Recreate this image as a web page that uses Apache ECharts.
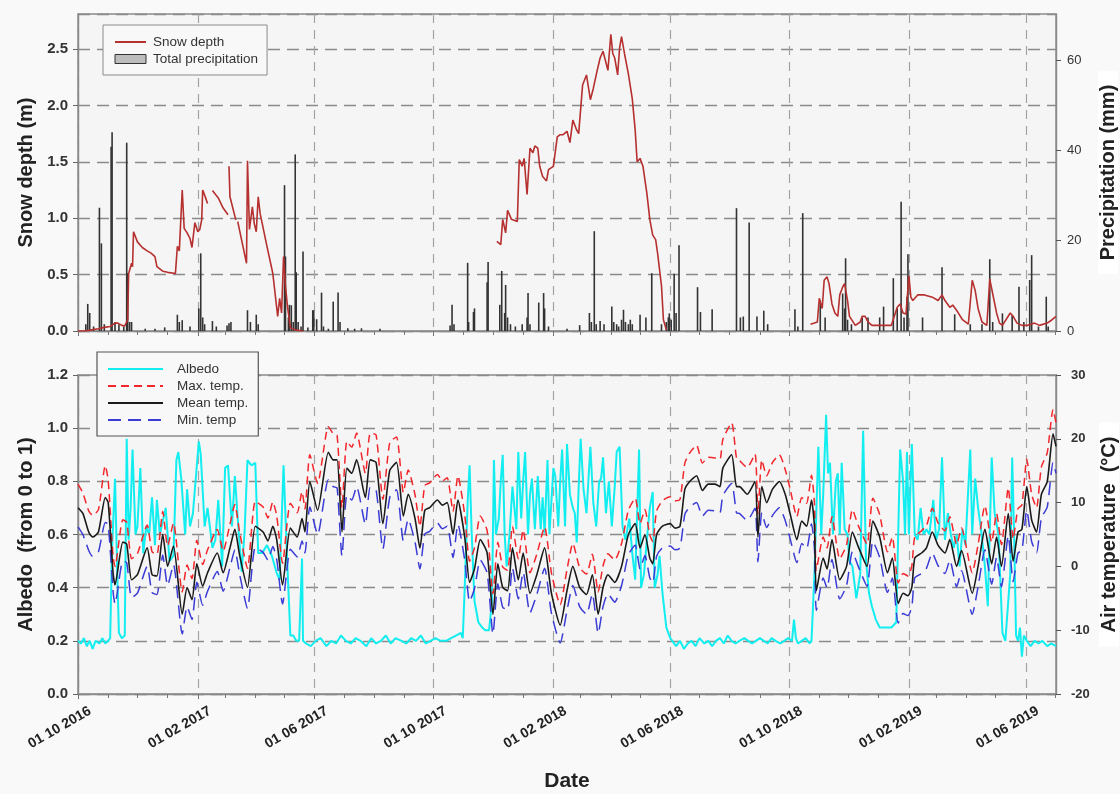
<!DOCTYPE html>
<html><head><meta charset="utf-8">
<script src="https://cdn.jsdelivr.net/npm/echarts@6/dist/echarts.min.js"></script>
<style>html,body{margin:0;padding:0;background:#f9f9f9}#c{width:1120px;height:794px}</style>
</head><body><div id="c"></div>
<script>
// x positions are "days since 01 10 2016"
const tickLabels = ['01 10 2016','01 02 2017','01 06 2017','01 10 2017','01 02 2018','01 06 2018','01 10 2018','01 02 2019','01 06 2019'];
const axisEndDay = 1004;

// ---- Precipitation (mm) ----
const precipDay = [8,10,12,16,22,24,27,34,35,38,42,47,50,51,53,55,69,79,89,102,104,107,115,124,126,128,130,138,142,153,155,157,174,177,183,185,212,213,216,217,219,221,223,224,226,229,231,236,241,242,245,250,252,257,262,267,269,277,284,291,310,382,384,386,400,401,406,407,420,421,433,435,438,439,441,444,449,456,461,462,464,473,478,479,483,502,515,525,527,530,532,536,540,548,550,553,555,558,560,562,565,567,569,577,583,589,599,604,606,607,609,612,614,617,636,639,651,676,680,683,689,697,704,708,736,739,744,762,767,785,787,788,790,794,805,811,823,827,837,841,845,848,851,852,867,887,900,916,928,936,939,949,959,966,971,977,979,986,994,996];
const precipMm = [1.5,6.0,4.0,1.0,27.3,19.4,1.5,40.8,44.0,2.0,1.5,1.0,41.7,12.8,2.0,2.0,0.5,0.5,0.8,3.6,2.0,2.4,1.0,5.0,17.2,3.0,1.5,2.2,1.0,1.2,1.7,2.0,4.6,2.0,3.6,1.5,32.3,16.5,3.0,5.8,5.7,2.0,39.1,13.0,2.0,1.0,17.6,0.8,4.6,4.6,2.6,8.5,1.0,0.5,6.5,8.5,2.0,0.6,0.5,0.6,0.5,1.2,5.8,1.5,15.1,2.0,4.2,5.0,10.8,15.3,5.8,13.3,4.0,10.2,3.0,1.5,1.0,1.5,3.0,8.4,1.5,6.3,8.4,5.0,1.0,0.5,1.3,4.0,2.0,22.1,1.5,2.2,1.5,5.4,2.0,1.5,1.0,2.5,4.7,2.0,1.5,2.5,1.5,3.6,3.0,12.8,1.5,2.0,3.0,3.9,2.5,12.7,4.0,19.0,9.7,4.2,4.8,27.2,3.0,3.2,24.0,3.2,4.5,1.5,4.8,1.0,26.1,6.8,3.0,8.3,5.0,16.1,2.5,1.5,3.0,3.0,3.0,5.4,11.7,5.0,28.6,3.0,7.6,17.0,3.0,14.1,3.7,1.5,1.5,15.9,2.0,3.9,3.5,9.8,2.0,11.3,16.8,1.0,7.6,1.0];

// ---- Snow depth (m), null = no data ----
const snowDay = [0,7,14,21,26,33,38,41,45,48,51,52,55,56,57,61,66,71,75,79,81,84,87,92,100,102,104,107,109,112,115,117,120,123,125,127,128,131,133,135,138,144,149,154,154.5,155,156,162,163,164,173,174,176,179,181,183,185,187,194,200,205,207,209,211,213,215,218,223,231,400,
 430,434,436,439,441,445,451,453,456,458,461,464,467,469,472,474,477,481,483,488,492,495,498,502,505,508,512,514,518,522,526,529,533,536,539,541,544,547,549,551,554,556,558,561,565,569,572,574,577,580,584,587,590,593,595,599,601,604,700,
 752,756,759,761,764,766,769,771,774,777,780,782,785,787,790,792,798,803,805,808,811,815,825,835,841,844,847,850,853,855,857,862,869,877,883,887,890,895,898,903,908,914,916,918,921,924,928,933,936,939,943,946,949,957,960,964,969,975,982,987,995,1000,1004];
const snowDepth = [0,0,0.01,0.02,0.03,0.04,0.07,0.07,0.05,0.045,0.10,0.51,0.60,0.57,0.88,0.79,0.74,0.71,0.69,0.66,0.57,0.55,0.53,0.52,0.51,0.75,0.71,1.25,0.91,0.87,0.82,0.74,0.96,0.88,0.90,0.985,1.25,1.18,1.13,null,1.245,1.18,1.09,1.03,null,1.46,1.19,0.985,null,0.97,0.60,1.51,0.90,1.10,0.95,0.88,1.19,1.04,0.75,0.51,0.13,0.29,0.16,0.66,0.40,0.22,0.03,0.01,0.0,null,
 0.795,0.765,0.99,0.87,1.07,0.99,0.97,1.52,1.46,1.53,1.21,1.62,1.58,1.64,1.62,1.46,1.37,1.33,1.43,1.46,1.72,1.74,1.74,1.77,1.67,1.87,1.78,1.75,2.18,2.27,2.05,2.15,2.31,2.42,2.48,2.49,2.31,2.63,2.46,2.42,2.27,2.51,2.61,2.46,2.28,2.06,1.78,1.50,1.53,1.46,1.22,0.99,0.85,0.81,0.69,0.40,0.10,0.01,null,
 0.06,0.07,0.08,0.29,0.20,0.45,0.48,0.42,0.24,0.16,0.13,0.32,0.39,0.42,0.27,0.13,0.05,0.08,0.13,0.13,0.08,0.05,0.05,0.05,0.21,0.24,0.16,0.15,0.49,0.30,0.27,0.32,0.32,0.30,0.27,0.32,0.27,0.21,0.23,0.17,0.10,0.06,0.06,0.45,0.36,0.20,0.08,0.05,0.46,0.33,0.16,0.07,0.05,0.16,0.13,0.07,0.05,0.05,0.07,0.05,0.07,0.10,0.13];

// ---- Albedo (0-1) ----
const albedoDay = [0,3,6,9,12,15,18,22,25,28,31,33,35,38,40,42,45,48,50,52,54,56,59,61,64,67,70,73,76,79,81,84,87,90,94,98,101,103,106,110,112,115,118,120,124,126,130,133,138,141,144,148,151,154,158,161,164,168,171,174,178,182,185,189,194,199,204,207,211,215,218,221,224,227,230,231,
 234,239,244,249,255,260,265,270,275,280,285,290,296,301,306,311,316,321,326,332,337,342,347,352,357,362,367,372,378,383,388,393,395,
 397,400,402,404,407,411,415,418,422,425,427,429,432,434,436,438,440,443,446,450,452,455,457,459,462,464,466,469,472,475,477,479,482,484,488,490,493,495,497,500,502,505,508,510,512,514,516,519,522,526,529,532,535,537,539,542,545,548,551,553,556,559,562,566,569,572,574,576,578,581,584,587,590,592,595,597,600,604,606,608,
 610,614,618,622,626,630,634,638,643,647,651,655,659,663,667,671,675,679,684,688,692,696,700,704,708,712,716,721,725,729,733,735,737,739,743,747,751,
 753,756,760,763,765,768,770,772,775,778,780,782,784,787,790,792,795,799,803,806,809,812,815,819,823,827,831,835,840,842,844,847,849,851,853,856,859,862,865,868,871,874,878,881,884,887,890,893,896,899,902,905,908,911,916,918,921,924,927,931,934,938,941,945,949,952,957,959,961,963,965,967,969,971,974,978,982,986,990,995,999,1004];
const albedo = [0.20,0.19,0.21,0.18,0.20,0.17,0.20,0.19,0.21,0.19,0.20,0.21,0.55,0.81,0.50,0.23,0.21,0.22,0.96,0.58,0.70,0.92,0.60,0.63,0.85,0.53,0.63,0.60,0.74,0.56,0.73,0.60,0.65,0.70,0.50,0.52,0.88,0.91,0.81,0.60,0.77,0.63,0.68,0.68,0.95,0.90,0.63,0.70,0.55,0.58,0.73,0.48,0.85,0.86,0.63,0.82,0.66,0.46,0.61,0.88,0.86,0.87,0.53,0.53,0.56,0.52,0.455,0.43,0.86,0.48,0.22,0.22,0.20,0.20,0.51,0.20,
 0.19,0.18,0.20,0.21,0.18,0.20,0.19,0.22,0.20,0.19,0.21,0.20,0.18,0.21,0.19,0.20,0.22,0.19,0.21,0.20,0.19,0.21,0.20,0.22,0.19,0.20,0.21,0.20,0.20,0.21,0.22,0.23,0.21,
 0.40,0.72,0.86,0.62,0.35,0.27,0.25,0.24,0.24,0.35,0.88,0.60,0.66,0.80,0.90,0.60,0.48,0.60,0.78,0.62,0.91,0.66,0.80,0.91,0.60,0.75,0.81,0.62,0.82,0.62,0.74,0.605,0.88,0.60,0.85,0.82,0.63,0.80,0.92,0.63,0.94,0.75,0.70,0.68,0.57,0.78,0.96,0.77,0.68,0.93,0.72,0.63,0.80,0.81,0.89,0.68,0.80,0.63,0.78,0.91,0.93,0.63,0.58,0.66,0.53,0.43,0.43,0.92,0.40,0.45,0.58,0.70,0.76,0.40,0.45,0.52,0.38,0.25,0.23,0.21,
 0.21,0.18,0.20,0.17,0.19,0.20,0.18,0.21,0.19,0.20,0.18,0.20,0.21,0.19,0.22,0.20,0.19,0.20,0.21,0.20,0.19,0.20,0.21,0.20,0.19,0.21,0.20,0.19,0.20,0.21,0.20,0.28,0.21,0.19,0.20,0.21,0.19,
 0.20,0.45,0.93,0.60,0.75,1.05,0.83,0.87,0.60,0.80,0.83,0.60,0.87,0.62,0.60,0.50,0.48,0.36,0.45,0.99,0.50,0.38,0.33,0.28,0.25,0.25,0.25,0.25,0.27,0.60,0.92,0.80,0.60,0.91,0.60,0.94,0.60,0.58,0.70,0.60,0.62,0.60,0.73,0.58,0.62,0.89,0.58,0.68,0.60,0.55,0.60,0.48,0.62,0.56,0.92,0.60,0.81,0.70,0.62,0.48,0.33,0.89,0.68,0.60,0.23,0.20,0.45,0.89,0.60,0.22,0.20,0.25,0.14,0.22,0.20,0.18,0.20,0.19,0.20,0.18,0.19,0.18];

// ---- Air temperature (°C) ----
const tempDay = [0,5,11,15,21,28,31,36,38,46,50,55,61,71,76,81,87,92,98,107,112,117,122,128,133,143,149,156,161,166,174,182,190,195,200,204,210,218,225,230,233,238,246,257,262,266,271,276,281,286,295,300,306,313,320,327,334,339,346,351,356,361,369,374,379,385,390,397,402,407,413,420,426,431,436,441,446,452,457,464,471,479,486,495,502,508,515,522,528,534,539,544,551,558,565,572,577,582,587,590,594,600,608,613,618,623,628,635,641,647,654,659,662,671,676,679,687,695,698,702,707,713,720,726,731,738,743,748,753,756,758,765,769,774,782,789,795,801,810,816,823,831,836,842,847,852,856,859,866,871,877,883,890,895,902,907,918,924,931,938,943,948,955,960,965,969,974,979,984,989,995,1001,1004];
const tempMax = [12.9,11.5,8.7,8.0,8.9,15.8,13.5,1.5,0.0,7.3,6.9,1.2,2.0,6.5,2.3,1.9,8.6,3.2,6.8,-4.0,0.2,-1.9,4.1,0.3,2.6,5.8,2.4,6.6,9.7,5.3,-0.3,10.2,9.3,7.6,10.1,7.9,0.5,9.9,8.4,11.7,9.0,17.5,13.0,21.9,20.8,20.5,9.2,19.6,18.7,20.9,14.6,20.9,20.6,10.5,19.4,20.3,11.6,15.1,11.2,6.3,12.7,13.1,14.4,13.4,13.9,8.6,14.2,8.1,0.8,2.9,7.9,5.6,-4.3,3.8,-0.1,-0.6,6.3,1.2,5.7,-1.0,1.9,6.2,-1.0,-6.0,-0.5,3.6,-0.2,-1.2,1.9,-4.0,0.1,2.0,1.0,3.6,8.8,10.7,6.7,8.9,4.9,3.9,8.7,10.3,10.9,10.3,10.5,16.2,17.8,19.0,16.2,17.1,17.0,16.8,19.9,22.5,17.0,16.6,15.5,17.6,8.2,16.7,14.2,16.3,17.5,15.2,12.2,7.8,10.8,9.9,14.3,9.9,-0.6,4.6,2.9,7.8,1.2,3.4,8.9,6.4,3.5,10.7,8.1,2.3,4.6,-2.6,-1.1,-1.5,0.1,4.6,5.6,6.4,9.1,6.8,5.6,7.8,3.4,6.0,-1.0,3.4,9.5,3.8,8.3,3.4,12.3,4.3,9.1,9.6,16.8,11.3,9.2,15.6,17.8,24.6,22.5];
const tempMean = [9.2,8.3,5.4,4.6,5.4,10.8,10.0,-1.0,-2.9,3.8,3.5,-2.1,-1.3,2.9,-1.3,-1.5,5.0,0.0,3.2,-7.5,-3.3,-5.2,0.4,-3.1,-1.0,2.1,-1.0,2.9,5.8,1.7,-3.3,6.3,5.4,4.0,6.3,4.2,-2.9,6.0,4.6,7.5,5.4,13.3,8.8,17.9,16.7,16.7,5.4,15.4,14.6,16.7,10.8,16.7,16.3,6.7,15.0,16.3,7.9,11.3,7.5,2.9,8.8,9.2,10.4,9.6,10.0,5.0,10.4,4.6,-2.5,-0.4,4.2,2.1,-7.5,0.4,-3.3,-3.8,2.9,-2.1,2.1,-4.2,-1.3,2.9,-4.2,-9.2,-3.8,0.0,-3.3,-4.4,-1.3,-7.5,-3.3,-1.3,-2.5,0.0,5.0,6.7,2.9,5.0,1.3,0.4,5.0,6.3,6.7,6.0,6.3,12.1,13.3,14.2,11.9,12.9,12.9,12.5,15.4,17.5,12.5,12.5,11.3,13.3,4.6,12.5,10.0,12.1,13.3,11.3,8.3,4.2,7.1,6.3,10.4,6.3,-3.8,1.3,-0.4,4.2,-2.1,0.0,5.4,3.1,0.0,7.1,4.6,-1.0,1.3,-5.8,-4.2,-4.6,-3.3,1.3,2.1,2.9,5.4,3.3,2.1,4.2,0.0,2.5,-4.2,0.0,5.8,0.4,4.6,0.0,8.3,0.8,5.4,5.8,12.5,7.3,5.4,11.3,13.3,20.8,18.8];
const tempMin = [6.2,5.0,2.5,1.6,2.3,6.9,6.6,-3.9,-5.9,0.8,0.6,-4.9,-4.2,0.0,-4.1,-4.4,1.8,-3.0,0.3,-10.6,-6.3,-8.3,-2.5,-6.1,-3.9,-0.8,-3.9,-0.2,2.6,-1.3,-6.6,3.0,2.2,1.0,3.1,1.1,-5.9,2.7,1.5,4.0,2.1,9.3,5.0,13.6,12.5,12.3,1.6,11.2,10.4,12.5,6.6,12.4,12.0,2.7,10.8,12.0,4.0,7.4,3.8,-0.4,5.1,5.5,6.8,5.9,6.3,1.4,6.6,1.0,-5.5,-3.5,1.0,-1.0,-10.6,-2.7,-6.4,-6.8,-0.2,-5.1,-0.9,-7.3,-4.4,-0.3,-7.3,-12.0,-6.9,-3.0,-6.3,-7.5,-4.3,-10.5,-6.3,-4.3,-5.6,-3.0,1.8,3.3,-0.4,1.7,-1.8,-2.6,1.6,2.9,3.2,2.6,2.9,8.2,9.3,10.0,7.9,8.8,8.7,8.4,11.1,13.0,8.4,8.3,7.2,9.1,0.7,8.4,6.1,8.0,9.2,7.2,4.4,0.6,3.6,2.8,6.7,2.8,-6.9,-1.8,-3.4,1.1,-5.1,-3.0,2.3,0.0,-3.1,3.9,1.4,-4.1,-1.8,-8.9,-7.4,-7.7,-6.3,-1.8,-1.1,-0.3,2.1,0.1,-1.1,1.0,-3.2,-0.7,-7.5,-3.2,2.6,-2.8,1.4,-3.2,4.8,-2.4,2.1,2.5,8.8,3.9,2.1,7.6,9.3,16.3,14.6];

// ---------- helpers ----------
const T0 = Date.UTC(2016, 9, 1);
const DAY = 86400000;
const labelToDay = s => { const p = s.split(' ').map(Number); return Math.round((Date.UTC(p[2], p[1] - 1, p[0]) - T0) / DAY); };
const pad = n => (n < 10 ? '0' : '') + n;
const fmtDay = v => { const d = new Date(T0 + Math.round(v) * DAY); return pad(d.getUTCDate()) + ' ' + pad(d.getUTCMonth() + 1) + ' ' + d.getUTCFullYear(); };
const pairs = (days, vals) => days.map((d, i) => [d, vals[i] == null ? '-' : vals[i]]);

const majorTicks = tickLabels.map(labelToDay);
const monthTicks = [];
for (let k = 0; ; k++) {
  const dd = Math.round((Date.UTC(2016, 9 + k, 1) - T0) / DAY);
  if (dd > axisEndDay) break;
  monthTicks.push(dd);
}

const FONT = '"Liberation Sans", Arial, sans-serif';
const hDash = { show: true, lineStyle: { color: '#8a8a8a', width: 1.4, type: [12, 7] } };
const vDash = { show: true, lineStyle: { color: '#a3a3a3', width: 1.2, type: [9, 7] } };
const AXIS_LINE = { show: true, onZero: false, lineStyle: { color: '#8a8a8a', width: 1.4 } };
const gridBase = { show: true, backgroundColor: '#f5f5f5', borderColor: '#8a8a8a', borderWidth: 1.4, left: 78, right: 64, outerBoundsMode: 'none', containLabel: false };
const NAME_STYLE = { fontSize: 20, fontWeight: 'bold', color: '#222', fontFamily: FONT };

function mainX(gi, withLabels) {
  return {
    type: 'value', gridIndex: gi, min: 0, max: axisEndDay, position: 'bottom',
    axisLine: AXIS_LINE,
    axisTick: { show: true, customValues: majorTicks, length: 5, lineStyle: { color: '#666' } },
    axisLabel: withLabels ? {
      show: true, customValues: majorTicks, formatter: fmtDay, rotate: 30, margin: 23,
      fontSize: 14, fontWeight: 'bold', color: '#222', fontFamily: FONT, padding: [0, -14, 0, 0]
    } : { show: false },
    splitLine: vDash,
    name: withLabels ? 'Date' : '', nameLocation: 'middle', nameGap: 77,
    nameTextStyle: { fontSize: 21, fontWeight: 'bold', color: '#222', fontFamily: FONT }
  };
}
function minorX(gi) {
  return {
    type: 'value', gridIndex: gi, min: 0, max: axisEndDay, position: 'bottom',
    axisLine: { show: false, onZero: false }, axisLabel: { show: false }, splitLine: { show: false },
    axisTick: { show: true, customValues: monthTicks, length: 4, lineStyle: { color: '#777' } }
  };
}
const leftLabel = { fontSize: 15, fontWeight: 'bold', color: '#333', fontFamily: FONT, margin: 10, formatter: v => v.toFixed(1), showMaxLabel: false };
const hideSym = { color: 'rgba(0,0,0,0)', borderWidth: 0, opacity: 0 };

const option = {
  animation: false,
  backgroundColor: '#f9f9f9',
  textStyle: { fontFamily: FONT },
  grid: [
    Object.assign({}, gridBase, { top: 14, height: 317 }),
    Object.assign({}, gridBase, { top: 375, height: 319 })
  ],
  xAxis: [mainX(0, false), minorX(0), mainX(1, true), minorX(1)],
  yAxis: [
    { type: 'value', gridIndex: 0, min: 0, max: 2.81, interval: 0.5, position: 'left',
      axisLine: AXIS_LINE,
      axisTick: { show: true, length: 5, lineStyle: { color: '#666' } },
      axisLabel: leftLabel, splitLine: hDash,
      name: 'Snow depth (m)', nameLocation: 'middle', nameGap: 38, nameRotate: 90, nameTextStyle: NAME_STYLE },
    { type: 'value', gridIndex: 0, min: 0, max: 70.2, interval: 20, position: 'right',
      axisLine: AXIS_LINE,
      axisTick: { show: true, length: 5, lineStyle: { color: '#555' } },
      axisLabel: { fontSize: 13, color: '#333', fontFamily: FONT, margin: 11, showMaxLabel: false },
      splitLine: { show: false },
      name: 'Precipitation (mm)', nameLocation: 'middle', nameGap: 42, nameRotate: 90, nameMoveOverlap: false,
      nameTextStyle: Object.assign({ backgroundColor: '#ffffff', padding: [0, 14, 0, 14] }, NAME_STYLE) },
    { type: 'value', gridIndex: 1, min: 0, max: 1.2, interval: 0.2, position: 'left',
      axisLine: AXIS_LINE,
      axisTick: { show: true, length: 5, lineStyle: { color: '#666' } },
      axisLabel: Object.assign({}, leftLabel, { showMaxLabel: true }), splitLine: hDash,
      name: 'Albedo  (from 0 to 1)', nameLocation: 'middle', nameGap: 38, nameRotate: 90, nameTextStyle: NAME_STYLE },
    { type: 'value', gridIndex: 1, min: -20, max: 30, interval: 10, position: 'right',
      axisLine: AXIS_LINE,
      axisTick: { show: true, length: 5, lineStyle: { color: '#555' } },
      axisLabel: { fontSize: 13, fontWeight: 'bold', color: '#333', fontFamily: FONT, margin: 15 },
      splitLine: { show: false },
      name: 'Air temperature  (°C)', nameLocation: 'middle', nameGap: 43, nameRotate: 90, nameMoveOverlap: false,
      nameTextStyle: Object.assign({ backgroundColor: '#ffffff', padding: [0, 14, 0, 14] }, NAME_STYLE) }
  ],
  legend: [
    { data: [{ name: 'Snow depth', itemStyle: hideSym },
             { name: 'Total precipitation', icon: 'rect', itemStyle: { color: '#bdbdbd', borderColor: '#333', borderWidth: 1, opacity: 1 } }],
      orient: 'vertical', left: 103, top: 25, padding: [10, 9, 9, 11], itemGap: 3, itemWidth: 31, itemHeight: 9,
      borderColor: '#8a8a8a', borderWidth: 1, backgroundColor: '#f8f8f8',
      textStyle: { fontSize: 13.5, color: '#333', fontFamily: FONT, padding: [0, 0, 0, 2] } },
    { data: [{ name: 'Albedo', itemStyle: hideSym }, { name: 'Max. temp.', itemStyle: hideSym },
             { name: 'Mean temp.', itemStyle: hideSym }, { name: 'Min. temp', itemStyle: hideSym }],
      orient: 'vertical', left: 97, top: 352, padding: [10, 10, 9, 10], itemGap: 3, itemWidth: 55, itemHeight: 14,
      borderColor: '#555', borderWidth: 1.2, backgroundColor: '#f8f8f8',
      textStyle: { fontSize: 13.5, color: '#333', fontFamily: FONT, padding: [0, 0, 0, 9] } }
  ],
  series: [
    { name: 'Total precipitation', type: 'bar', xAxisIndex: 0, yAxisIndex: 1, barWidth: 1.6, barGap: '-100%',
      itemStyle: { color: '#333333' }, data: pairs(precipDay, precipMm), z: 2 },
    { name: 'Snow depth', type: 'line', xAxisIndex: 0, yAxisIndex: 0, symbol: 'none', connectNulls: false,
      lineStyle: { color: '#b5302f', width: 1.6 }, itemStyle: { color: '#b5302f' }, data: pairs(snowDay, snowDepth), z: 3 },
    { name: 'Albedo', type: 'line', xAxisIndex: 2, yAxisIndex: 2, symbol: 'none',
      lineStyle: { color: '#12eef0', width: 2 }, itemStyle: { color: '#12eef0' }, data: pairs(albedoDay, albedo), z: 2 },
    { name: 'Max. temp.', type: 'line', xAxisIndex: 2, yAxisIndex: 3, symbol: 'none', smooth: 0.2,
      lineStyle: { color: '#f2262b', width: 1.5, type: [8, 5] }, itemStyle: { color: '#f2262b' }, data: pairs(tempDay, tempMax), z: 3 },
    { name: 'Mean temp.', type: 'line', xAxisIndex: 2, yAxisIndex: 3, symbol: 'none', smooth: 0.2,
      lineStyle: { color: '#1a1a1a', width: 1.6 }, itemStyle: { color: '#1a1a1a' }, data: pairs(tempDay, tempMean), z: 4 },
    { name: 'Min. temp', type: 'line', xAxisIndex: 2, yAxisIndex: 3, symbol: 'none', smooth: 0.2,
      lineStyle: { color: '#3b3bd6', width: 1.5, type: [13, 7] }, itemStyle: { color: '#3b3bd6' }, data: pairs(tempDay, tempMin), z: 3 }
  ]
};
const chart = echarts.init(document.getElementById('c'), null, { renderer: 'canvas' });
chart.setOption(option);
</script></body></html>
